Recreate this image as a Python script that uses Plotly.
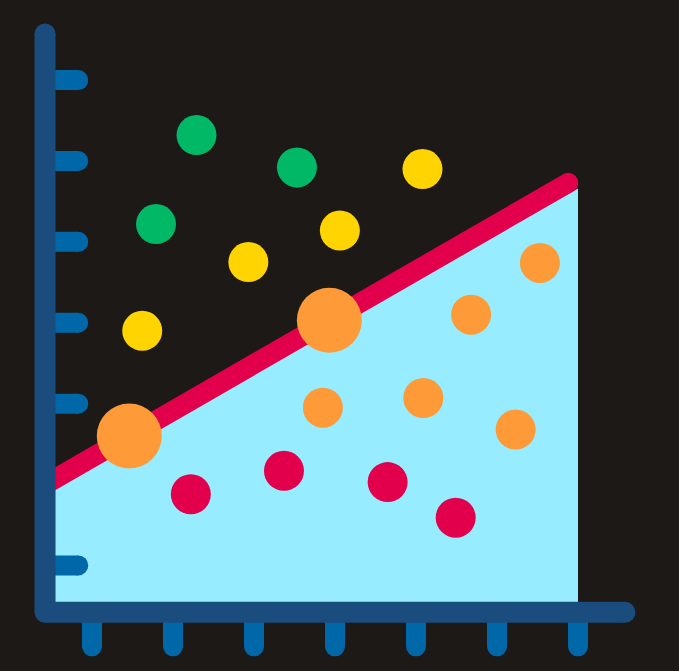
import plotly.graph_objects as go

# value grid: ticks sit on whole numbers, axes cross at 0.42
x_ticks = [1, 2, 3, 4, 5, 6, 7]
y_ticks = [1, 3, 4, 5, 6, 7]
origin = 0.42
axis_end_x = 7.58
axis_end_y = 7.57

# trend line and the shaded area under it
trend_x = [0.42, 6.88]
trend_y = [2.0, 5.73]
area_right = 7.0

green_x = [2.29, 3.53, 1.79]
green_y = [6.32, 5.92, 5.22]
yellow_x = [5.08, 4.06, 2.93, 1.62]
yellow_y = [5.90, 5.14, 4.75, 3.90]
orange_big_x = [1.46, 3.93]
orange_big_y = [2.60, 4.03]
orange_x = [6.53, 5.68, 3.85, 5.09, 6.23]
orange_y = [4.74, 4.10, 2.95, 3.07, 2.68]
red_x = [2.22, 3.37, 4.65, 5.49]
red_y = [1.88, 2.17, 2.03, 1.59]

BG = '#1d1916'
AXIS = '#1a4d7e'
TICK = '#0068a8'
CYAN = '#97ecff'
RED = '#e2004d'
ORANGE = '#ff9a38'
YELLOW = '#ffd400'
GREEN = '#00b865'

slope = (trend_y[1] - trend_y[0]) / (trend_x[1] - trend_x[0])
area_top = trend_y[0] + slope * (area_right - trend_x[0]) - 0.14

fig = go.Figure()


def stroke(xs, ys, color, width, caps):
    # thick line, circle markers fake the round caps
    fig.add_trace(go.Scatter(
        x=xs, y=ys, mode='lines+markers',
        line=dict(color=color, width=width),
        marker=dict(color=color, size=[width if c else 0 for c in caps],
                    opacity=1, line=dict(width=0)),
        hoverinfo='skip'))


# shaded area
fig.add_trace(go.Scatter(
    x=[origin, trend_x[0], area_right, area_right, origin],
    y=[origin, trend_y[0], area_top, origin, origin],
    mode='lines', fill='toself', fillcolor=CYAN, line=dict(width=0, color=CYAN),
    hoverinfo='skip'))

# tick stubs
for t in y_ticks:
    stroke([origin, 0.83], [t, t], TICK, 20, [False, True])
for t in x_ticks:
    stroke([t, t], [origin, 0.0], TICK, 20, [False, True])

# trend line
stroke(trend_x, trend_y, RED, 20, [False, True])

# axes
stroke([origin, origin], [axis_end_y, origin], AXIS, 21, [True, True])
stroke([origin, axis_end_x], [origin, origin], AXIS, 21, [False, True])

# points
for xs, ys, c, s in [(green_x, green_y, GREEN, 40),
                     (yellow_x, yellow_y, YELLOW, 40),
                     (orange_x, orange_y, ORANGE, 40),
                     (red_x, red_y, RED, 40),
                     (orange_big_x, orange_big_y, ORANGE, 65)]:
    fig.add_trace(go.Scatter(
        x=xs, y=ys, mode='markers',
        marker=dict(color=c, size=s, line=dict(width=0)), hoverinfo='skip'))

fig.update_traces(cliponaxis=False)
fig.update_layout(
    width=679, height=671,
    margin=dict(l=0, r=0, t=0, b=0),
    paper_bgcolor=BG, plot_bgcolor=BG,
    showlegend=False,
    xaxis=dict(range=[-0.136, 8.247], visible=False, fixedrange=True),
    yaxis=dict(range=[-0.305, 7.99], visible=False, fixedrange=True),
)
fig.write_html("out.html", config={'displayModeBar': False},
               post_script="document.body.style.margin='0';document.body.style.background='" + BG + "';")
